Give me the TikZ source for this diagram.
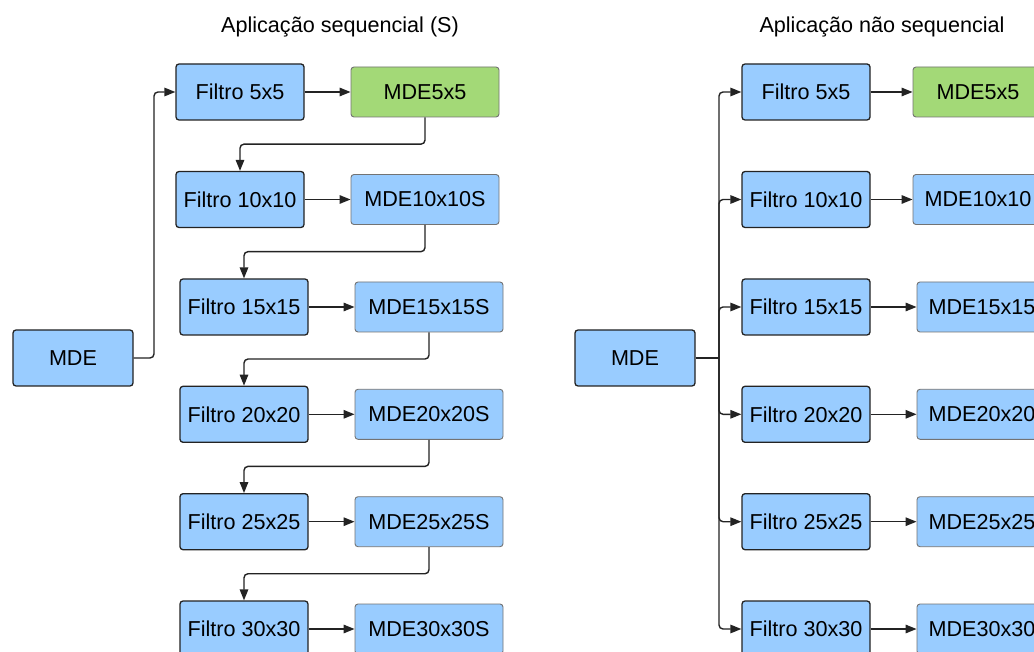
\documentclass[tikz,border=0pt]{standalone}
\usepackage{fontspec}
\setmainfont{Liberation Sans}
\usetikzlibrary{arrows.meta,calc}
\definecolor{boxblue}{RGB}{153,204,255}
\definecolor{boxgreen}{RGB}{163,217,119}
\definecolor{lineclr}{RGB}{35,35,35}
\tikzset{
  filt/.style={draw=lineclr, line width=1.3pt, rounded corners=3pt, fill=boxblue,
    minimum width=128pt, minimum height=56pt, inner sep=0pt, font=\fontsize{21.6}{26}\selectfont},
  src/.style={filt, minimum width=120pt},
  res/.style={draw=black!55, line width=0.9pt, rounded corners=3pt, fill=boxblue,
    minimum width=148pt, minimum height=50pt, inner sep=0pt, font=\fontsize{21.6}{26}\selectfont},
  resr/.style={res, minimum width=130pt},
  conn/.style={draw=lineclr, line width=1.4pt, rounded corners=4pt, -{Triangle[length=11pt,width=8.5pt]}},
  ttl/.style={font=\fontsize{21.6}{26}\selectfont, inner sep=0pt, anchor=base}
}
\begin{document}
\begin{tikzpicture}[x=1pt,y=-1pt]
\path[use as bounding box, clip] (0,0) rectangle (1034,652);
\fill[white] (0,0) rectangle (1034,652);
% titles
\node[ttl] (t1) at (340,33) {Aplicação sequencial (S)};
\node[ttl] (t2) at (882,33) {Aplicação não sequencial};
% left panel
\node[src] (m0) at (73,358) {MDE};
\node[filt] (f1) at (240,92) {Filtro 5x5};
\node[res, fill=boxgreen] (r1) at (425,92) {MDE5x5};
\node[filt] (f2) at (240,199.5) {Filtro 10x10};
\node[res] (r2) at (425,199.5) {MDE10x10S};
\node[filt] (f3) at (244,307) {Filtro 15x15};
\node[res] (r3) at (429,307) {MDE15x15S};
\node[filt] (f4) at (244,414.3) {Filtro 20x20};
\node[res] (r4) at (429,414.3) {MDE20x20S};
\node[filt] (f5) at (244,521.7) {Filtro 25x25};
\node[res] (r5) at (429,521.7) {MDE25x25S};
\node[filt] (f6) at (244,629) {Filtro 30x30};
\node[res] (r6) at (429,629) {MDE30x30S};
\draw[conn] (m0.east) -| (154,92) -- (f1.west);
\foreach \i in {1,...,6}{ \draw[conn] (f\i.east) -- (r\i.west); }
\foreach \i/\j in {1/2,2/3,3/4,4/5,5/6}{
  \draw[conn] (r\i.south) |- ($(r\i.south)!0.5!(f\j.north)$) -| (f\j.north);
}
% right panel
\node[src] (n0) at (635,358) {MDE};
\node[filt] (g1) at (806,92) {Filtro 5x5};
\node[resr, fill=boxgreen] (s1) at (978,92) {MDE5x5};
\node[filt] (g2) at (806,199.5) {Filtro 10x10};
\node[resr] (s2) at (978,199.5) {MDE10x10};
\node[filt] (g3) at (806,307) {Filtro 15x15};
\node[resr] (s3) at (982,307) {MDE15x15};
\node[filt] (g4) at (806,414.3) {Filtro 20x20};
\node[resr] (s4) at (982,414.3) {MDE20x20};
\node[filt] (g5) at (806,521.7) {Filtro 25x25};
\node[resr] (s5) at (982,521.7) {MDE25x25};
\node[filt] (g6) at (806,629) {Filtro 30x30};
\node[resr] (s6) at (982,629) {MDE30x30};
\coordinate (tr) at (719,358);
\draw[draw=lineclr, line width=1.4pt] (n0.east) -- (tr);
\foreach \i in {1,...,6}{
  \draw[conn] (tr) |- (g\i.west);
  \draw[conn] (g\i.east) -- (s\i.west);
}
\end{tikzpicture}
\end{document}
